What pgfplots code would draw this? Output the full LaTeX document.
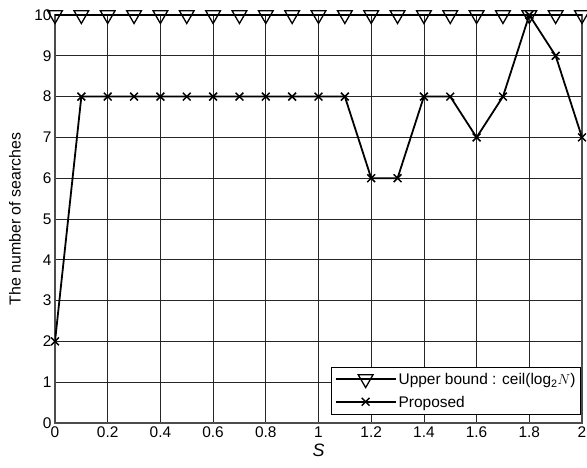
\documentclass[border=0pt]{standalone}
\usepackage{fontspec}
\setmainfont{Liberation Sans}
\setsansfont{Liberation Sans}
\usepackage{pgfplots}
\pgfplotsset{compat=1.18}
\begin{document}
\begin{tikzpicture}
\begin{axis}[
  at={(0,0)}, anchor=south west,
  scale only axis,
  width=527bp, height=408bp,
  xmin=0, xmax=2, ymin=0, ymax=10,
  xtick={0,0.2,...,2.01},
  ytick={0,1,...,10},
  xticklabel style={/pgf/number format/fixed},
  /pgf/number format/assume math mode=true,
  tick label style={font=\fontsize{15.5}{17}\selectfont},
  grid=major,
  major grid style={black!85, line width=0.8bp},
  axis line style={black!70, line width=1.6bp},
  tick style={black!85, line width=0.8bp},
  major tick length=6bp,
  tick align=inside,
  xlabel={\textit{S}},
  xlabel style={font=\fontsize{18}{20}\selectfont, at={(axis description cs:0.5,-0.068)}, anchor=center},
  ylabel={The number of searches},
  ylabel style={font=\fontsize{16}{18}\selectfont, at={(axis description cs:-0.076,0.5)}, anchor=center},
  legend style={font=\fontsize{15.5}{17}\selectfont, draw=black, line width=0.8bp,
    fill=white, row sep=6bp, inner xsep=3bp, inner ysep=4bp,
    at={(axis description cs:0.998,0.0196)}, anchor=south east},
  legend cell align=left,
  legend image code/.code={%
    \draw[line width=2bp, mark repeat=2, mark phase=2] plot coordinates {(0bp,0.5bp) (30bp,0.5bp) (60bp,0.5bp)};},
]
\addplot[black, line width=1.8bp, mark=triangle, mark size=8.5bp,
  mark options={rotate=180, line width=1.3bp, fill=white, solid}]
coordinates {
(0,10) (0.1,10) (0.2,10) (0.3,10) (0.4,10) (0.5,10) (0.6,10) (0.7,10) (0.8,10) (0.9,10) (1.0,10)
(1.1,10) (1.2,10) (1.3,10) (1.4,10) (1.5,10) (1.6,10) (1.7,10) (1.8,10) (1.9,10) (2.0,10)
};
\addlegendentry{Upper bound : ceil(log\textsubscript{2}$N$)}
\addplot[black, line width=1.8bp, mark=x, mark size=5.5bp,
  mark options={line width=1.5bp, solid}]
coordinates {
(0,2) (0.1,8) (0.2,8) (0.3,8) (0.4,8) (0.5,8) (0.6,8) (0.7,8) (0.8,8) (0.9,8) (1.0,8)
(1.1,8) (1.2,6) (1.3,6) (1.4,8) (1.5,8) (1.6,7) (1.7,8) (1.8,10) (1.9,9) (2.0,7)
};
\addlegendentry{Proposed}
\end{axis}
\pgfresetboundingbox
\path[use as bounding box] (-55bp,-45bp) rectangle (532bp,423bp);
\end{tikzpicture}
\end{document}
